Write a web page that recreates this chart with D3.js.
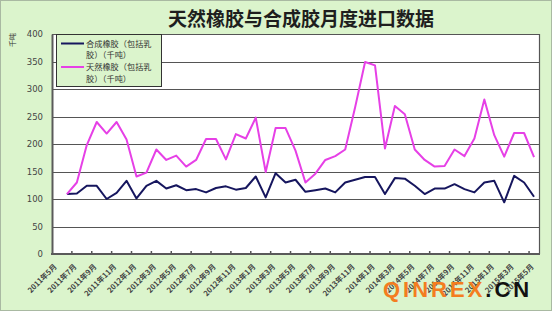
<!DOCTYPE html>
<html>
<head>
<meta charset="utf-8">
<script src="https://d3js.org/d3.v7.min.js"></script>
<style>
  body { margin: 0; background: #fff; }
  svg { display: block; }
</style>
</head>
<body>
<svg id="vis"></svg>
<script>
  // categories (2011年5月 .. 2015年5月), first month has no data
  var months = [
    "2011年5月","2011年6月","2011年7月","2011年8月","2011年9月","2011年10月","2011年11月","2011年12月",
    "2012年1月","2012年2月","2012年3月","2012年4月","2012年5月","2012年6月","2012年7月","2012年8月",
    "2012年9月","2012年10月","2012年11月","2012年12月","2013年1月","2013年2月","2013年3月","2013年4月",
    "2013年5月","2013年6月","2013年7月","2013年8月","2013年9月","2013年10月","2013年11月","2013年12月",
    "2014年1月","2014年2月","2014年3月","2014年4月","2014年5月","2014年6月","2014年7月","2014年8月",
    "2014年9月","2014年10月","2014年11月","2014年12月","2015年1月","2015年2月","2015年3月","2015年4月",
    "2015年5月"
  ]

  var synthetic = [null,
    109, 110, 124, 124, 100, 111, 133, 101, 124, 133, 119, 125,
    116, 118, 112, 120, 123, 117, 120, 141, 103, 147, 130, 135,
    113, 116, 119, 112, 130, 135, 140, 140, 109, 138, 137, 124,
    109, 119, 119, 127, 118, 112, 130, 133, 94, 142, 130, 104]

  var natural = [null,
    109, 130, 198, 240, 219, 240, 208, 141, 148, 190, 171, 179,
    159, 171, 209, 209, 172, 218, 210, 248, 149, 229, 229, 188,
    130, 146, 171, 178, 190, 267, 349, 343, 192, 269, 254, 190,
    171, 159, 160, 190, 178, 210, 281, 216, 177, 220, 220, 176]

  var yTicks = [0, 50, 100, 150, 200, 250, 300, 350, 400]

  var seriesNames = ["合成橡胶（包括乳胶）（千吨）", "天然橡胶（包括乳胶）（千吨）"]
  var legendLines = [["合成橡胶（包括乳", "胶）（千吨）"], ["天然橡胶（包括乳", "胶）（千吨）"]]
  var colors = ["#16165e", "#e640e6"]

  var W = 552, H = 311
  var plot = {left: 52, right: 539, top: 34, bottom: 254}

  var svg = d3.select('#vis')
    .attr('width', W)
    .attr('height', H)
    .style('font-family', '"DejaVu Sans", sans-serif')

  svg.append('rect')
    .attr('x', 0.5).attr('y', 0.5)
    .attr('width', W - 1).attr('height', H - 1)
    .attr('fill', '#dbf4cc')
    .attr('stroke', '#a9b9a2')

  // title
  svg.append('text')
    .attr('x', 301).attr('y', 26)
    .attr('text-anchor', 'middle')
    .attr('font-family', '"Noto Sans CJK SC", sans-serif')
    .attr('font-weight', 'bold')
    .attr('font-size', 19)
    .attr('fill', '#1e1e1e')
    .text('天然橡胶与合成胶月度进口数据')

  // unit
  svg.append('text')
    .attr('transform', 'translate(15,40) rotate(-90)')
    .attr('text-anchor', 'middle')
    .attr('font-family', '"Noto Sans CJK SC", sans-serif')
    .attr('font-size', 7)
    .attr('fill', '#333')
    .text('千吨')

  // scales
  var x = d3.scaleBand()
    .domain(months)
    .range([plot.left, plot.right])
    .padding(0)

  var y = d3.scaleLinear()
    .domain([0, 400])
    .range([plot.bottom, plot.top])

  svg.append('rect')
    .attr('x', plot.left).attr('y', plot.top)
    .attr('width', plot.right - plot.left)
    .attr('height', plot.bottom - plot.top)
    .attr('fill', '#fff')

  // grid
  svg.append('g')
    .selectAll('line')
    .data(yTicks.slice(1))
    .enter().append('line')
      .attr('x1', plot.left).attr('x2', plot.right)
      .attr('y1', function (d) { return Math.round(y(d)) + 0.5 })
      .attr('y2', function (d) { return Math.round(y(d)) + 0.5 })
      .attr('stroke', '#555')
      .attr('stroke-width', 1.2)

  // right border
  svg.append('line')
    .attr('x1', plot.right + 0.5).attr('x2', plot.right + 0.5)
    .attr('y1', plot.top).attr('y2', plot.bottom)
    .attr('stroke', '#555')
    .attr('stroke-width', 1.2)

  // y axis
  var y_axis = d3.axisLeft(y).tickValues(yTicks).tickSize(0).tickPadding(9)
  var gy = svg.append('g')
    .attr('transform', 'translate(' + plot.left + ',0)')
    .call(y_axis)
  gy.select('.domain').attr('stroke', '#5a5a5a').attr('stroke-width', 2)
  gy.selectAll('text').attr('font-size', 8.5).attr('fill', '#444')
    .attr('font-family', '"DejaVu Sans", sans-serif')

  // x axis: ticks every 2 categories, pointing up
  var tickPos = months.filter(function (d, i) { return i % 2 === 1 })
  svg.append('g')
    .selectAll('line')
    .data(tickPos)
    .enter().append('line')
      .attr('x1', function (d) { return x(d) + x.bandwidth() })
      .attr('x2', function (d) { return x(d) + x.bandwidth() })
      .attr('y1', plot.bottom)
      .attr('y2', plot.bottom - 3)
      .attr('stroke', '#555')
      .attr('stroke-width', 1.5)

  svg.append('line')
    .attr('x1', plot.left - 1).attr('x2', plot.right + 1)
    .attr('y1', plot.bottom).attr('y2', plot.bottom)
    .attr('stroke', '#5a5a5a')
    .attr('stroke-width', 2)

  var labelled = months.filter(function (d, i) { return i % 2 === 0 })
  svg.append('g')
    .selectAll('text')
    .data(labelled)
    .enter().append('text')
      .attr('transform', function (d) {
        return 'translate(' + (x(d) + x.bandwidth() / 2 - 4) + ',' + 263 + ') rotate(-45)'
      })
      .attr('dy', '0.8em')
      .attr('text-anchor', 'end')
      .attr('font-family', '"Noto Sans CJK SC", sans-serif')
      .attr('font-size', 7.5)
      .attr('font-weight', 'bold')
      .attr('fill', '#444')
      .text(function (d) { return d })

  // lines
  var allSeries = [synthetic, natural]
  var line = d3.line()
    .defined(function (d) { return d != null })
    .x(function (d, i) { return x(months[i]) + x.bandwidth() / 2 })
    .y(function (d) { return y(d) })

  svg.append('g')
    .selectAll('path')
    .data(allSeries)
    .enter().append('path')
      .attr('d', function (d) { return line(d) })
      .attr('fill', 'none')
      .attr('stroke', function (d, i) { return colors[i] })
      .attr('stroke-width', 2)
      .attr('stroke-linejoin', 'round')

  // legend
  var lg = svg.append('g')
  lg.append('rect')
    .attr('x', 56.5).attr('y', 34.5)
    .attr('width', 105).attr('height', 52)
    .attr('fill', '#dbf4cc')
    .attr('stroke', '#333')
    .attr('stroke-width', 1)

  legendLines.forEach(function (lines, i) {
    var y0 = 43.5 + i * 23.5
    lg.append('line')
      .attr('x1', 61).attr('x2', 84)
      .attr('y1', y0).attr('y2', y0)
      .attr('stroke', colors[i])
      .attr('stroke-width', 2)
    lines.forEach(function (t, j) {
      lg.append('text')
        .attr('x', 86).attr('y', y0 + 3 + j * 11.8)
        .attr('font-family', '"Noto Sans CJK SC", sans-serif')
        .attr('font-size', 8.2)
        .attr('fill', '#333')
        .text(t)
    })
  })

  // watermark
  var wm = svg.append('text')
    .attr('x', 383).attr('y', 297)
    .attr('font-family', '"Liberation Sans", Arial, sans-serif')
    .attr('font-weight', 'bold')
    .attr('font-size', 22)
    .attr('letter-spacing', 3)
  wm.append('tspan').attr('fill', '#f47d1f').text('QINREX')
  wm.append('tspan').attr('fill', '#111').text('.CN')
</script>
</body>
</html>
